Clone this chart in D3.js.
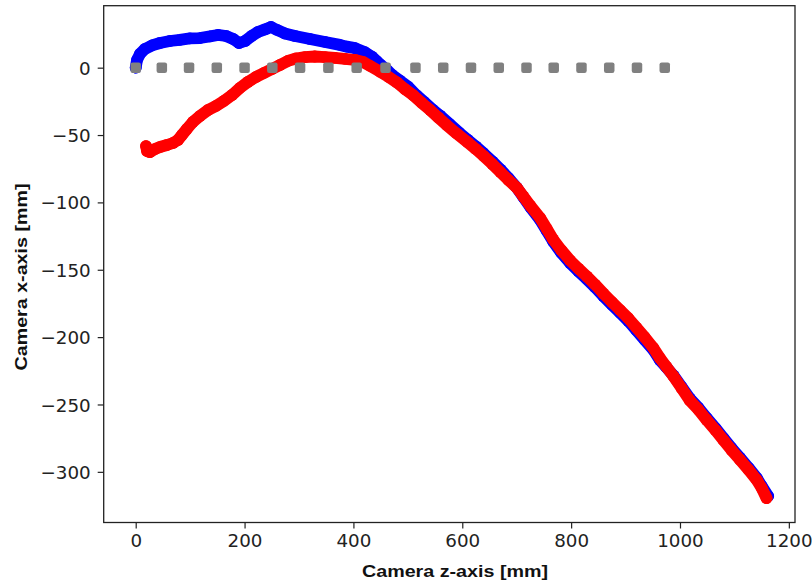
<!DOCTYPE html>
<html><head><meta charset="utf-8">
<script src="https://cdn.jsdelivr.net/npm/d3@7"></script>
<style>body{margin:0;background:#fff}svg{display:block}</style>
</head><body>
<svg id="chart" width="812" height="584"></svg>
<script>
// ---- data (camera trajectory, mm) ----
const blueX = [0,2.4,7.9,17,30,44.6,62.9,81,99.6,118,136.5,151,166,179,190,201,213,224.6,237.5,248.6,259.6,274,292.7,320,347.8,375,388,403,421,434,443,449,460,470,485,500,516,530,545,559,577,595,610,625,639,655,670,685,700,712,725,743,755,767,782,798,813,829,844,859,875,890,905,920,935,951,963,975,988,1003,1018,1034,1049,1065,1080,1095,1110,1126,1141,1150,1162];
const blueY = [0,5.7,10.2,13.9,16.5,18.3,19.8,20.6,21.7,22,23.2,24.3,23.5,21.3,18.3,19.8,23.5,26.5,28.4,30.2,28,25.4,23.5,21.3,19.1,16.9,15.6,14.5,11.5,8.2,4.8,2.5,-1,-5,-9.5,-14,-20.5,-25.5,-31,-35.5,-42,-48.5,-53.5,-58.5,-63.5,-69.5,-75.5,-82,-89,-96,-103.5,-113,-121,-129,-137.5,-145,-151,-157,-163,-169.5,-176,-182,-188,-195,-202,-209.5,-217,-222.5,-228.5,-237,-245.5,-252.5,-260,-267.5,-275,-282.5,-289.5,-297,-304.5,-310.5,-318];
const redX = [19,21,26,35.5,44.6,57.5,68.5,77.7,85,94,105,118,133,147.5,162,177,191.6,206,221,235.7,250.4,265,279.6,294.5,311,329,348,366,384.5,403,417.6,430.5,449,465,480,495,510,525,541,556,571,590,610,625,639,655,670,685,700,712,725,743,755,767,782,798,813,829,844,859,875,890,905,920,935,951,963,975,988,1003,1018,1034,1049,1065,1080,1095,1110,1126,1141,1150,1159];
const redY = [-58.2,-62,-62.7,-60.4,-58.9,-57.4,-55.9,-53.7,-50,-45.5,-40.3,-35.9,-31.4,-28.4,-24.7,-20.3,-15,-10.6,-6.9,-3.9,-1,2,5,6.8,7.9,8.3,7.9,7.2,6.5,5.7,4.2,1.3,-3,-7,-11,-16,-20.5,-26,-31.5,-37,-42.5,-49,-55.5,-60.5,-65.5,-71.5,-77.5,-83.5,-89,-95.5,-102.5,-111.5,-119.5,-127.5,-135.5,-143,-149,-155,-161,-167.5,-174,-180,-186,-193,-200,-208,-215.5,-222,-229,-238,-247,-254,-261.5,-269,-276.5,-284,-291,-298.5,-306,-312,-319.5];
const grayX = [0,48,98,149,200,251,302,354,406,459,514,565,616,667,718,768,819,870,921,972];
const grayY = [0,0,0,0,0,0,0,0,0,0,0,0,0,0,0,0,0,0,0,0];
const xTicks = [0,200,400,600,800,1000,1200];
const yTicks = [0,-50,-100,-150,-200,-250,-300];
const xLabel = "Camera z-axis [mm]";
const yLabel = "Camera x-axis [mm]";

// ---- layout ----
const L = 103.7, R = 795, T = 5.7, B = 522.5;
const svg = d3.select("#chart");
const x = d3.scaleLinear().domain([-58.8, 1211.3]).range([L, R]);
const y = d3.scaleLinear().domain([46, -337.6]).range([T, B]);

const plot = svg.append("g");
plot.append("clipPath").attr("id","clip").append("rect")
  .attr("x", L).attr("y", T).attr("width", R - L).attr("height", B - T);
const area = plot.append("g").attr("clip-path","url(#clip)");

function drawSeries(xs, ys, color, r) {
  const pts = xs.map((v, i) => [v, ys[i]]);
  const line = d3.line().x(d => x(d[0])).y(d => y(d[1]));
  area.append("path").datum(pts).attr("d", line)
    .attr("fill","none").attr("stroke", color).attr("stroke-width", 2*r)
    .attr("stroke-linecap","round").attr("stroke-linejoin","round");
  area.append("g").selectAll("circle").data(pts).join("circle")
    .attr("cx", d => x(d[0])).attr("cy", d => y(d[1])).attr("r", r)
    .attr("fill", color);
}
drawSeries(blueX, blueY, "#0000ff", 5.9);
drawSeries(redX, redY, "#ff0000", 5.9);

const sq = 10.5;
area.append("g").selectAll("rect").data(grayX.map((v,i)=>[v, grayY[i]])).join("rect")
  .attr("x", d => x(d[0]) - sq/2).attr("y", d => y(d[1]) - sq/2)
  .attr("width", sq).attr("height", sq).attr("rx", 2.2)
  .attr("fill", "#808080");

// ---- axes ----
const fmt = d => (d < 0 ? "\u2212" + Math.abs(d) : String(d));
const gx = svg.append("g").attr("transform", `translate(0,${B})`)
  .call(d3.axisBottom(x).tickValues(xTicks).tickFormat(fmt).tickSize(6).tickPadding(6).tickSizeOuter(0));
const gy = svg.append("g").attr("transform", `translate(${L},0)`)
  .call(d3.axisLeft(y).tickValues(yTicks).tickFormat(fmt).tickSize(6).tickPadding(7).tickSizeOuter(0));
[gx, gy].forEach(g => {
  g.select(".domain").remove();
  g.selectAll(".tick line").attr("stroke", "#222").attr("stroke-width", 1.2);
  g.selectAll(".tick text").attr("fill", "#222")
    .style("font-family", "'DejaVu Sans', sans-serif").style("font-size", "18.3px");
});
gy.selectAll(".tick text").attr("dy", "0.36em");

svg.append("rect").attr("x", L).attr("y", T).attr("width", R - L).attr("height", B - T)
  .attr("fill", "none").attr("stroke", "#222").attr("stroke-width", 1.3);

svg.append("text").attr("x", 455).attr("y", 577).attr("text-anchor", "middle")
  .attr("textLength", 186).attr("lengthAdjust", "spacingAndGlyphs")
  .style("font-family", "'Liberation Sans Narrow','Liberation Sans',sans-serif")
  .style("font-weight", "bold").style("font-size", "17px").attr("fill", "#111")
  .text(xLabel);
svg.append("text").attr("transform", "translate(27,277) rotate(-90)").attr("text-anchor", "middle")
  .attr("textLength", 187).attr("lengthAdjust", "spacingAndGlyphs")
  .style("font-family", "'Liberation Sans Narrow','Liberation Sans',sans-serif")
  .style("font-weight", "bold").style("font-size", "17px").attr("fill", "#111")
  .text(yLabel);
</script>
</body></html>
